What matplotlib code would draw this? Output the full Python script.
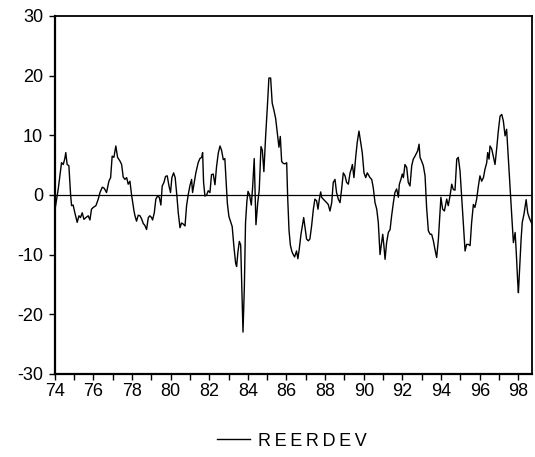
import matplotlib
matplotlib.use("Agg")
import matplotlib.pyplot as plt
from matplotlib.ticker import MultipleLocator, FormatStrFormatter

plt.rcParams['font.family'] = ['Liberation Sans', 'DejaVu Sans']
plt.rcParams['axes.unicode_minus'] = False

# time in decimal years (74 = 1974)
years = [
    74.00, 74.03, 74.19, 74.36, 74.45, 74.53, 74.58, 74.65, 74.74, 74.83, 74.88, 74.96,
    75.05, 75.17, 75.26, 75.34, 75.43, 75.52, 75.62, 75.74, 75.83, 75.91,
    76.00, 76.14, 76.26, 76.35, 76.47, 76.57, 76.69, 76.81, 76.90, 76.98,
    77.07, 77.17, 77.26, 77.38, 77.47, 77.55, 77.64, 77.73, 77.81, 77.90, 77.98,
    78.11, 78.16, 78.24, 78.33, 78.42, 78.50, 78.59, 78.67, 78.76, 78.85, 78.93,
    79.02, 79.07, 79.16, 79.24, 79.33, 79.42, 79.50, 79.57, 79.66, 79.74, 79.83, 79.92,
    80.00, 80.07, 80.16, 80.24, 80.33, 80.40, 80.49, 80.57, 80.66, 80.75, 80.83, 80.92,
    81.00, 81.09, 81.14, 81.23, 81.31, 81.43, 81.52, 81.61, 81.66, 81.71, 81.78, 81.87, 81.95,
    82.04, 82.12, 82.21, 82.30, 82.38, 82.47, 82.56, 82.64, 82.73, 82.81, 82.87, 82.94,
    83.02, 83.11, 83.19, 83.28, 83.37, 83.42, 83.49, 83.56, 83.63, 83.69, 83.75, 83.82, 83.88, 83.95,
    84.01, 84.09, 84.18, 84.25, 84.33, 84.42, 84.51, 84.59, 84.68, 84.75, 84.83, 84.92,
    85.01, 85.09, 85.18, 85.26, 85.35, 85.44, 85.52, 85.61, 85.68, 85.75, 85.83, 85.92,
    86.01, 86.06, 86.13, 86.20, 86.28, 86.35, 86.42, 86.52, 86.59, 86.66, 86.75, 86.82, 86.89, 86.96,
    87.04, 87.13, 87.21, 87.30, 87.39, 87.47, 87.56, 87.63, 87.70, 87.77, 87.82, 87.90, 87.99,
    88.08, 88.16, 88.25, 88.34, 88.42, 88.51, 88.59, 88.68, 88.77, 88.85, 88.94,
    89.03, 89.11, 89.20, 89.29, 89.35, 89.41, 89.49, 89.58, 89.66, 89.75, 89.84, 89.92,
    90.01, 90.10, 90.18, 90.32, 90.41, 90.49, 90.58, 90.67, 90.75, 90.84, 90.92, 90.98,
    91.04, 91.10, 91.18, 91.27, 91.36, 91.44, 91.53, 91.61, 91.70, 91.79, 91.84, 91.92, 91.99,
    92.05, 92.13, 92.22, 92.30, 92.39, 92.48, 92.56, 92.65, 92.74, 92.79, 92.86, 92.91, 92.99,
    93.08, 93.17, 93.25, 93.34, 93.43, 93.51, 93.60, 93.68, 93.77, 93.86, 93.94, 93.99,
    94.08, 94.17, 94.29, 94.37, 94.46, 94.55, 94.63, 94.72, 94.81, 94.89, 94.98,
    95.06, 95.15, 95.24, 95.32, 95.41, 95.50, 95.58, 95.67, 95.75, 95.84, 95.93,
    96.01, 96.10, 96.19, 96.27, 96.36, 96.41, 96.48, 96.53, 96.62, 96.70, 96.79, 96.88, 96.96,
    97.05, 97.14, 97.22, 97.31, 97.39, 97.48, 97.57, 97.65, 97.74, 97.83, 97.89, 97.96,
    98.00, 98.07, 98.14, 98.20, 98.29, 98.34, 98.40, 98.48, 98.58, 98.72,
]
reerdev = [
    -0.5, -2.3, 1.0, 5.4, 5.1, 6.1, 7.1, 5.1, 4.9, 0.0, -1.8, -1.7,
    -3.0, -4.6, -3.5, -3.8, -3.0, -4.1, -3.8, -3.5, -4.2, -2.4,
    -2.1, -1.8, -0.7, 0.4, 1.3, 1.1, 0.4, 2.3, 2.9, 6.5,
    6.3, 8.2, 6.3, 5.7, 5.1, 3.0, 2.6, 2.9, 1.8, 2.3, 0.1,
    -2.7, -3.5, -4.4, -3.4, -3.5, -4.0, -4.8, -5.1, -5.8, -3.8, -3.5,
    -3.8, -4.2, -3.0, -0.7, -0.2, -0.4, -1.7, 1.5, 2.1, 3.1, 3.2, 1.5,
    0.4, 2.9, 3.7, 2.9, -0.2, -3.0, -5.5, -4.7, -4.9, -5.2, -1.8, 0.1,
    1.5, 2.6, 0.4, 2.1, 3.7, 5.4, 6.1, 6.3, 7.1, 2.1, -0.2, 0.0, 0.7,
    0.4, 3.4, 3.5, 1.7, 4.7, 7.0, 8.2, 7.5, 5.9, 6.1, 2.5, -1.4,
    -3.6, -4.5, -5.3, -8.7, -11.5, -12.0, -9.5, -7.8, -8.4, -15.4, -23.0, -15.4, -4.7, -1.1,
    0.6, 0.0, -1.7, 1.4, 6.1, -5.0, -1.4, 0.8, 8.1, 7.5, 3.9, 9.8,
    14.8, 19.6, 19.6, 15.4, 14.2, 12.8, 10.6, 8.0, 9.8, 5.6, 5.3, 5.2,
    5.4, -0.3, -5.9, -8.4, -9.5, -10.0, -10.4, -9.4, -10.7, -9.1, -6.6, -5.2, -3.8, -5.5,
    -7.4, -7.7, -7.4, -5.2, -2.4, -0.7, -1.0, -2.4, -0.7, 0.5, -0.4, -0.7, -1.0,
    -1.3, -1.6, -2.7, -1.3, 2.1, 2.6, 0.4, -0.7, -1.3, 0.9, 3.7,
    3.2, 2.1, 1.8, 3.7, 4.3, 5.1, 2.9, 6.3, 8.8, 10.7, 8.8, 7.1,
    3.7, 2.9, 3.7, 2.9, 2.6, 1.2, -1.3, -2.4, -4.6, -10.0, -8.0, -6.6,
    -8.5, -10.8, -8.0, -6.3, -5.8, -3.5, -1.3, 0.4, 1.0, -0.4, 1.8, 2.6, 3.5,
    2.9, 5.1, 4.6, 2.1, 1.5, 4.9, 6.0, 6.5, 7.1, 7.4, 8.5, 6.3, 5.7,
    4.9, 3.2, -2.1, -6.0, -6.6, -6.6, -7.7, -9.1, -10.5, -7.4, -3.0, -0.4,
    -2.4, -2.7, -0.7, -1.8, -0.2, 1.8, 0.9, 0.8, 6.0, 6.3, 4.0,
    -0.2, -5.2, -9.4, -8.3, -8.3, -8.5, -4.6, -1.6, -2.1, -0.7, 1.5,
    3.2, 2.3, 2.9, 4.3, 5.4, 7.1, 6.0, 8.2, 7.7, 6.5, 5.1, 7.9, 10.7,
    13.2, 13.5, 12.4, 9.9, 11.0, 6.0, 0.9, -3.2, -8.0, -6.3, -9.7, -14.4,
    -16.4, -11.9, -7.4, -4.6, -3.2, -2.1, -0.8, -3.0, -4.0, -5.0,
]

fig = plt.figure(figsize=(5.35, 4.57), dpi=100)
ax = fig.add_axes([0.102, 0.182, 0.893, 0.783])

ax.plot(years, reerdev, color='black', lw=1.0)
ax.axhline(0, color='black', lw=0.9)

ax.set_xlim(74, 98.72)
ax.set_ylim(-30, 30)
ax.xaxis.set_major_locator(MultipleLocator(2))
ax.xaxis.set_minor_locator(MultipleLocator(1))
ax.xaxis.set_major_formatter(FormatStrFormatter('%d'))
ax.yaxis.set_major_locator(MultipleLocator(10))

ax.tick_params(axis='both', which='both', direction='out', length=4.3, width=1.0,
               labelsize=13, colors='black')
ax.tick_params(axis='x', pad=2)
ax.tick_params(axis='y', pad=4)

for side in ['left', 'bottom']:
    ax.spines[side].set_linewidth(1.6)
for side in ['top', 'right']:
    ax.spines[side].set_linewidth(1.3)

fig.legend(['R\u2009E\u2009E\u2009R\u2009D\u2009E\u2009V'], loc='center',
           bbox_to_anchor=(0.546, 0.035), frameon=False, fontsize=13,
           handlelength=1.85, handletextpad=0.45)

plt.savefig('out.png', dpi=100)
